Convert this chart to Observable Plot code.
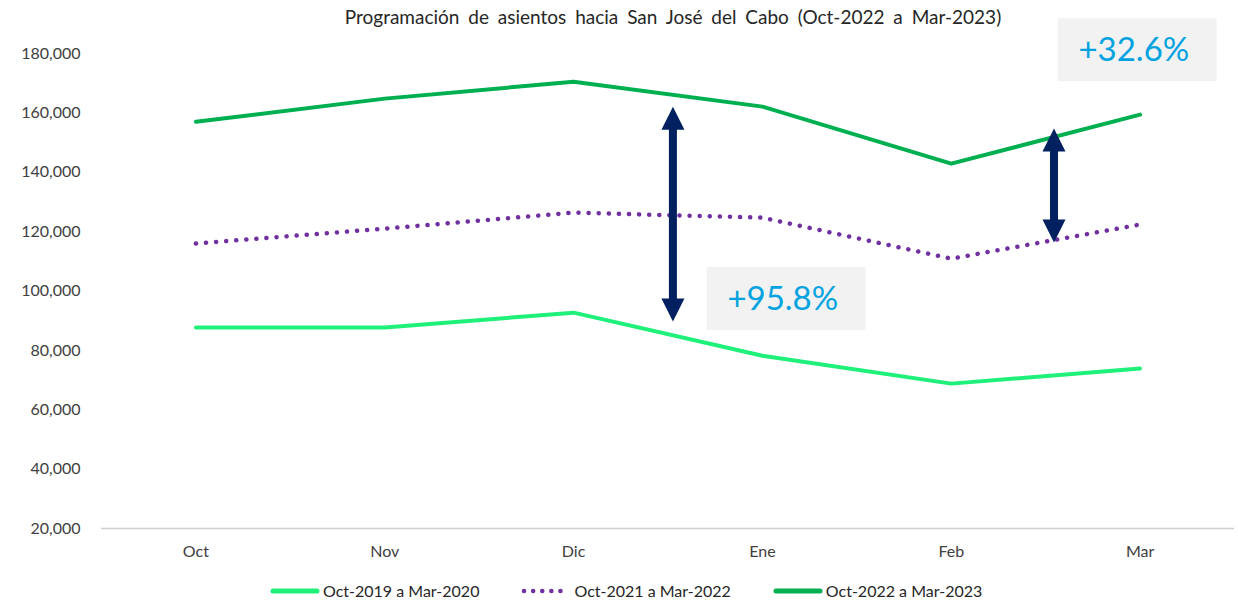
<!DOCTYPE html>
<html><head><meta charset="utf-8">
<script src="https://cdn.jsdelivr.net/npm/d3@7"></script>
<script src="https://cdn.jsdelivr.net/npm/@observablehq/plot@0.6"></script>
<style>
body{margin:0;background:#fff;font-family:Lato,"Open Sans",sans-serif;color:#404040;}
#wrap{position:relative;width:1238px;height:600px;}
#title{height:30px;line-height:34px;text-align:center;font-size:19px;word-spacing:4px;color:#262626;padding-left:108px;box-sizing:border-box;width:1238px;}
#legend{position:absolute;left:270px;top:581px;display:flex;align-items:center;font-size:16px;color:#262626;}
#legend .item{display:flex;align-items:center;margin-right:42px;}
#legend svg{margin-right:3px;}
svg.plot{overflow:visible;}
</style></head>
<body>
<div id="wrap">
<div id="title">Programación de asientos hacia San José del Cabo (Oct-2022 a Mar-2023)</div>
<div id="chart"></div>
<div id="legend"></div>
</div>
<script>
const months = ["Oct","Nov","Dic","Ene","Feb","Mar"];
const s2019 = [87700, 87700, 92700, 78200, 68800, 73900];
const s2021 = [116000, 121000, 126400, 124700, 110900, 122400];
const s2022 = [157000, 164800, 170500, 162100, 142900, 159400];
const seriesNames = ["Oct-2019 a Mar-2020","Oct-2021 a Mar-2022","Oct-2022 a Mar-2023"];
const yTicks = [20000,40000,60000,80000,100000,120000,140000,160000,180000];
// annotation arrows (x position in month index units, y tips in seats)
const arrowX = [2.526, 4.544];
const arrowTop = [162100, 154700];
const arrowBottom = [89700, 116300];
// annotation boxes
const boxLabels = ["+95.8%","+32.6%"];
const boxX1 = [2.707, 4.566];
const boxX2 = [3.549, 5.408];
const boxY1 = [86700, 170500];
const boxY2 = [107900, 191700];

const colors = ["#1EF07A","#7030A0","#00B050"];
const toRows = (vals, s) => vals.map((v,i)=>({i, v, s}));
const rows2019 = toRows(s2019, seriesNames[0]);
const rows2021 = toRows(s2021, seriesNames[1]);
const rows2022 = toRows(s2022, seriesNames[2]);
const arrows = arrowX.map((x,k)=>({x, top:arrowTop[k], bottom:arrowBottom[k]}));
const boxes = boxLabels.map((t,k)=>({t, x1:boxX1[k], x2:boxX2[k], y1:boxY1[k], y2:boxY2[k]}));

const head = {draw(ctx){ ctx.moveTo(0,0); ctx.lineTo(11.5,23); ctx.lineTo(-11.5,23); ctx.closePath(); }};

const chart = Plot.plot({
  width: 1238, height: 540,
  marginTop: 23, marginBottom: 42, marginLeft: 101, marginRight: 4,
  style: {fontFamily: "Lato, 'Open Sans', sans-serif", fontSize: "16px", color: "#404040", overflow: "visible"},
  x: {domain: [-0.5, 5.5], ticks: [0,1,2,3,4,5], tickFormat: i => months[i], tickSize: 0, tickPadding: 17, label: null},
  y: {domain: [20000, 180000], ticks: yTicks, tickFormat: d3.format(","), tickSize: 0, tickPadding: 21, label: null},
  marks: [
    Plot.ruleY([20000], {stroke: "#d0d0d0", strokeWidth: 1.5}),
    Plot.rect(boxes, {x1:"x1", x2:"x2", y1:"y1", y2:"y2", fill:"#f2f2f2"}),
    Plot.text(boxes, {x: d => (d.x1+d.x2)/2 - 0.02, y: d => (d.y1+d.y2)/2, text:"t", fill:"#00A3E0", fontSize: 33, fontFamily: "Lato, sans-serif"}),
    Plot.line(rows2019, {x:"i", y:"v", stroke: colors[0], strokeWidth: 4, strokeLinecap:"round"}),
    Plot.line(rows2021, {x:"i", y:"v", stroke: colors[1], strokeWidth: 4.5, strokeLinecap:"round", strokeDasharray:"0.1 10"}),
    Plot.line(rows2022, {x:"i", y:"v", stroke: colors[2], strokeWidth: 4, strokeLinecap:"round"}),
    Plot.ruleX(arrows, {x:"x", y1:"top", y2:"bottom", stroke:"#002060", strokeWidth: 8, insetTop: 20, insetBottom: 20}),
    Plot.dot(arrows, {x:"x", y:"top", symbol: head, fill:"#002060", stroke: null, r: 10}),
    Plot.dot(arrows, {x:"x", y:"bottom", symbol: head, fill:"#002060", stroke: null, r: 10, rotate: 180})
  ]
});
document.getElementById("chart").appendChild(chart);

const legend = document.getElementById("legend");
seriesNames.forEach((name,k)=>{
  const item = document.createElement("div"); item.className="item";
  const dash = k===1 ? 'stroke-dasharray="0.1 9"' : '';
  item.innerHTML = `<svg width="50" height="10"><line x1="3" x2="47" y1="5" y2="5" stroke="${colors[k]}" stroke-width="${k===1?4.5:5}" stroke-linecap="round" ${dash}/></svg><span>${name}</span>`;
  legend.appendChild(item);
});
</script>
</body></html>
